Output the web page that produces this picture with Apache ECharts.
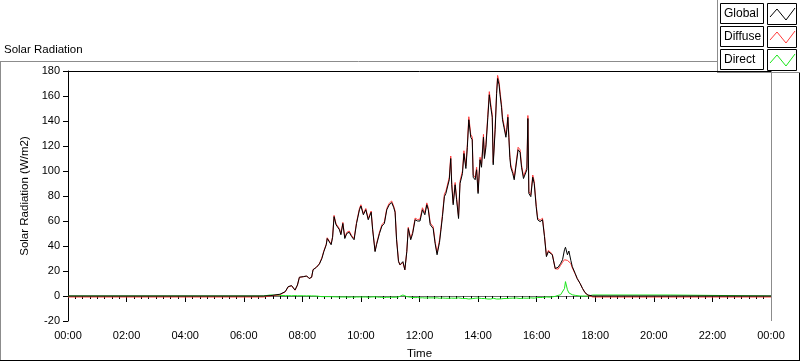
<!DOCTYPE html>
<html>
<head>
<meta charset="utf-8">
<script src="https://cdn.jsdelivr.net/npm/echarts@6/dist/echarts.min.js"></script>
<style>
html,body{margin:0;padding:0;background:#fff;}
#chart{width:800px;height:361px;}
</style>
</head>
<body>
<div id="chart"></div>
<script>
// ---- data (time of day, W/m2) ----
var times = [
"00:00","06:40","06:54","07:14","07:25","07:31","07:38","07:42","07:45","07:50",
"07:54","08:02","08:09","08:14","08:19","08:22","08:29","08:35","08:40","08:44",
"08:49","08:51","08:55","08:59","09:02","09:05","09:09","09:12","09:16","09:19",
"09:23","09:27","09:31","09:36","09:41","09:46","09:51","09:57","10:00","10:05",
"10:10","10:15","10:21","10:24","10:29","10:32","10:38","10:43","10:48","10:53",
"10:58","11:03","11:07","11:10","11:13","11:17","11:20","11:26","11:30","11:34",
"11:37","11:42","11:46","11:51","11:56","12:01","12:06","12:11","12:15","12:18",
"12:22","12:28","12:32","12:36","12:41","12:44","12:47","12:51","12:54","12:58",
"13:01","13:04","13:06","13:09","13:13","13:16","13:20","13:23","13:28","13:31",
"13:35","13:38","13:41","13:45","13:48","13:50","13:54","13:57","14:00","14:04",
"14:07","14:11","14:13","14:16","14:20","14:23","14:26","14:29","14:31","14:35",
"14:38","14:40","14:43","14:45","14:48","14:50","14:53","14:57","14:59","15:01",
"15:03","15:05","15:07","15:11","15:14","15:18","15:22","15:26","15:29","15:33",
"15:36","15:40","15:42","15:44","15:48","15:52","15:55","15:59","16:02","16:07",
"16:12","16:16","16:20","16:24","16:28","16:32","16:38","16:44","16:49","16:53",
"16:57","16:59","17:01","17:03","17:06","17:10","17:13","17:19","17:23","17:29",
"17:34","17:39","17:45","17:49","17:55","20:35","20:38","24:00"
];
var globalVals = [
0,0,0.3,1.4,3.5,7.5,8.3,7,4.8,8.8,
15,15.5,16,14,15,21,23,25.6,30,35.5,
41,46,47.5,41,47,63.5,57,56,53,49,
58,46,50,51,47.5,45,58,69,72,65,
69,61,67,53,35.5,41,50,56,58,69,
73,74.7,71,67,45,27.5,25,27.5,21,35.5,
54,45,50,61,60,60,69,65,73,69,
57,54,42,33,43,53,63.5,79.5,82,81,
93,110,89,73,89,77,62,90,98,114,
102,119,141,127,125,95,93,101,82,109,
103,127,110,119,143,161,151,143,105,133,
162,174,169,161,151,141,135,127,133,143,
127,111,103,98,93,92,117,115,103,94,
95,101,142,82,79.5,95,90,71.5,61,59.5,
61,47.5,31.5,35.5,37,33,22,23,26,29,
37,39,38.5,33,36,28.5,23.5,18,14,10,
6,2.7,0.8,0,0,0,0,0
];
var diffuseVals = [
-0.8,-0.8,0,1,3.3,7.3,8.2,7,4.6,8.7,
15,15.4,16,14,14.9,21.2,23.1,26,30.6,36,
41.5,46.6,48,41.6,47.6,64.5,57.8,57.6,53.9,49.8,
58.9,46.8,50.9,52,48.3,46,58.9,70,73,65.9,
70,62,68,53.9,36.1,41.8,51,57,59.3,70,
74.2,76,72,68,46,28.3,24.8,26.8,20.9,36,
55,46,51.2,62.3,61.2,61.5,70.6,66.6,74.5,70.5,
58.4,55.5,43.6,34.5,44.8,54.7,65,81.5,83.8,82.6,
94.8,112,90.7,74.6,90.8,78.7,63.5,91.9,100,116.2,
104,121.2,143.4,129.2,127.1,96.8,94.8,103,83.6,111,
105,129.3,112,121.2,145.4,163.5,153.4,145.3,106.8,135.2,
164.4,176.5,171.4,163.3,153.2,143.1,137,128.9,135,145.2,
129,112.8,104.8,99.7,94.6,93.6,119,117,104.8,95.7,
96.7,102.8,144.4,83.5,81,96.8,91.7,72.9,62.2,60.7,
62.2,48.5,32.3,36.5,37.9,33.6,21.8,21.5,24.5,27,
29,30,30.5,28.5,30,26,22.5,17.5,14,10,
6,2.7,0.5,-0.8,-0.8,-0.8,-0.8,-0.8
];
var directVals = [
0,0,0.8,0.5,0.3,0.3,0.2,0.2,0.3,0.2,
0.2,0.2,0.1,0.2,0.1,0,0,-0.3,-0.5,-0.5,
-0.5,-0.6,-0.5,-0.5,-0.6,-0.8,-0.7,-1.5,-0.8,-0.8,
-0.8,-0.8,-0.8,-1,-0.8,-1,-0.8,-0.8,-0.9,-0.8,
-0.8,-1,-0.8,-0.9,-0.6,-0.7,-1,-1,-1.3,-1,
-1,-1,-1,-1,-1,-0.8,0.3,0.8,0.2,-0.5,
-0.8,-1,-1.2,-1.3,-1.2,-1.5,-1.4,-1.6,-1.5,-1.5,
-1.4,-1.5,-1.6,-1.5,-1.8,-1.7,-1.6,-2,-1.8,-1.6,
-1.8,-2,-1.7,-1.6,-1.8,-1.7,-1.5,-1.9,-2,-2.2,
-2,-2.2,-2.4,-2.2,-2.1,-1.8,-1.8,-2,-1.6,-2,
-2,-2.3,-2,-2.2,-2.4,-2.5,-2.4,-2.3,-1.8,-2.2,
-2.4,-2.5,-2.4,-2.3,-2.2,-2.1,-2,-1.9,-2,-2.2,
-2,-1.8,-1.8,-1.7,-1.6,-1.6,-2,-2,-1.8,-1.7,
-1.7,-1.8,-2.4,-1.5,-1.5,-1.8,-1.7,-1.4,-1.2,-1.2,
-1.2,-1,-0.8,-1,-0.9,-0.6,-0.3,0.5,1,2,
6,11.5,12,5,2.5,4,1,0.5,0,0,
0,0,0,0,0.8,0.8,0,0
];
var seriesNames = ["Global","Diffuse","Direct"];
var seriesColors = ["#000000","#ff3b3b","#19e619"];
var xTickLabels = ["00:00","02:00","04:00","06:00","08:00","10:00","12:00","14:00","16:00","18:00","20:00","22:00","00:00"];
var yTitle = "Solar Radiation (W/m2)";
var xTitle = "Time";
var chartTitle = "Solar Radiation";

// ---- build ----
function toHours(s){var p=s.split(":");return +p[0]+(+p[1])/60;}
function pairs(vals){return times.map(function(t,i){return [toHours(t),vals[i]];});}

var FONT = "Liberation Sans";
var chart = echarts.init(document.getElementById('chart'), null, {renderer:'canvas'});

var L = 68, T = 71, R = 771, B = 321;

function legendRow(i, y){
  var col = seriesColors[i];
  return [
    {type:'rect', shape:{x:720.5,y:y+0.5,width:43,height:20}, style:{fill:'#fff',stroke:'#000',lineWidth:1}},
    {type:'text', x:724, y:y+11, style:{text:seriesNames[i], fill:'#000', font:'12px "'+FONT+'"', verticalAlign:'middle'}},
    {type:'rect', shape:{x:767.5,y:y+0.5,width:29,height:21}, style:{fill:'#fff',stroke:'#000',lineWidth:1}},
    {type:'polyline', shape:{points:[[770,y+14],[777,y+6],[786,y+17],[795,y+5]]}, style:{stroke:col,lineWidth:1,fill:null}}
  ];
}

var graphics = [
  {type:'line', shape:{x1:0,y1:61.5,x2:717,y2:61.5}, style:{stroke:'#8c8c8c',lineWidth:1}},
  {type:'line', shape:{x1:0.5,y1:61,x2:0.5,y2:361}, style:{stroke:'#8c8c8c',lineWidth:1}},
  {type:'line', shape:{x1:0,y1:360.5,x2:800,y2:360.5}, style:{stroke:'#000',lineWidth:1}},
  {type:'line', shape:{x1:799.5,y1:72,x2:799.5,y2:361}, style:{stroke:'#000',lineWidth:1}},
  {type:'line', shape:{x1:717.5,y1:0,x2:717.5,y2:72}, style:{stroke:'#8c8c8c',lineWidth:1}},
  {type:'line', shape:{x1:717,y1:72.5,x2:800,y2:72.5}, style:{stroke:'#8c8c8c',lineWidth:1}},
  {type:'line', shape:{x1:L,y1:T+0.5,x2:R,y2:T+0.5}, style:{stroke:'#000',lineWidth:1}, z:10},
  {type:'line', shape:{x1:R+0.5,y1:T,x2:R+0.5,y2:B}, style:{stroke:'#8c8c8c',lineWidth:1}, z:10},
  {type:'text', x:4, y:50, style:{text:chartTitle, fill:'#000', font:'11.5px "'+FONT+'"', verticalAlign:'middle'}}
];
graphics = graphics.concat(legendRow(0,3), legendRow(1,26), legendRow(2,49));

var option = {
  animation:false,
  backgroundColor:'#fff',
  grid:{left:L, top:T, width:R-L, height:B-T, containLabel:false, outerBoundsMode:'none'},
  xAxis:{
    type:'value', min:0, max:24, interval:2,
    name:xTitle, nameLocation:'middle', nameGap:27,
    nameTextStyle:{color:'#000', fontFamily:FONT, fontSize:11.5},
    axisLine:{show:true, lineStyle:{color:'#6e6e6e', width:1}},
    axisTick:{show:true, length:6, lineStyle:{color:'#000'}},
    minorTick:{show:true, splitNumber:8, length:3, lineStyle:{color:'#000'}},
    axisLabel:{color:'#000', fontFamily:FONT, fontSize:11, margin:9,
      formatter:function(v){return xTickLabels[Math.round(v/2)];}},
    splitLine:{show:false}
  },
  yAxis:{
    type:'value', min:-20, max:180, interval:20,
    name:yTitle, nameLocation:'middle', nameGap:35, nameRotate:90,
    nameTextStyle:{color:'#000', fontFamily:FONT, fontSize:11.5},
    axisLine:{show:true, lineStyle:{color:'#000', width:1}},
    axisTick:{show:true, length:5, lineStyle:{color:'#000'}},
    axisLabel:{color:'#000', fontFamily:FONT, fontSize:11, margin:8},
    splitLine:{show:false}
  },
  series:[
    {name:seriesNames[2], type:'line', data:pairs(directVals), showSymbol:false, symbol:'none',
      lineStyle:{color:seriesColors[2], width:1}, itemStyle:{color:seriesColors[2]}, z:2},
    {name:seriesNames[1], type:'line', data:pairs(diffuseVals), showSymbol:false, symbol:'none',
      lineStyle:{color:seriesColors[1], width:1}, itemStyle:{color:seriesColors[1]}, z:3},
    {name:seriesNames[0], type:'line', data:pairs(globalVals), showSymbol:false, symbol:'none',
      lineStyle:{color:seriesColors[0], width:1}, itemStyle:{color:seriesColors[0]}, z:4}
  ],
  graphic:graphics
};
chart.setOption(option);
</script>
</body>
</html>
